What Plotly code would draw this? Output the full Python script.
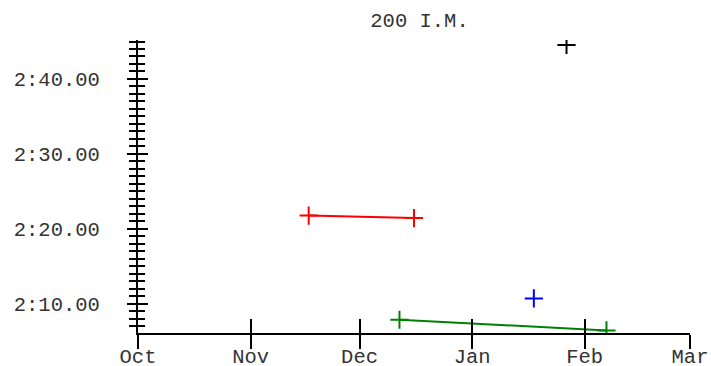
import plotly.graph_objects as go

# swim times for 200 I.M., in seconds
red_dates = ["2015-11-17", "2015-12-16"]
red_times = [141.77, 141.43]

green_dates = ["2015-12-12", "2016-02-07"]
green_times = [127.87, 126.44]

blue_dates = ["2016-01-18"]
blue_times = [130.71]

black_dates = ["2016-01-27"]
black_times = [164.53]

tick_secs = [130, 140, 150, 160]
tick_labels = ["2:10.00", "2:20.00", "2:30.00", "2:40.00"]

FONT = "Liberation Mono, Courier New, monospace"
x_range = ["2015-10-01", "2016-03-01"]
y_range = [126.1, 165.2]

fig = go.Figure()

series = [
    (red_dates, red_times, "red"),
    (green_dates, green_times, "green"),
    (blue_dates, blue_times, "blue"),
    (black_dates, black_times, "black"),
]
for dates, times, color in series:
    fig.add_trace(go.Scatter(
        x=dates, y=times, mode="lines+markers",
        line=dict(color=color, width=2),
        marker=dict(symbol="cross-thin", size=13, line=dict(color=color, width=2)),
        showlegend=False,
    ))

# dummy trace so the overlay axes (inside ticks) get drawn
fig.add_trace(go.Scatter(x=[None], y=[None], xaxis="x2", yaxis="y2",
                         showlegend=False, hoverinfo="skip"))

minor_vals = list(range(127, 166))

fig.update_layout(
    width=711, height=366,
    margin=dict(l=138, r=21, t=40, b=33),
    paper_bgcolor="white", plot_bgcolor="white",
    font=dict(family=FONT, size=20.5, color="#333"),
    title=dict(text="200 I.M.", x=0.51, xref="paper", xanchor="center",
               y=1 - 20 / 366, yref="container", yanchor="middle",
               font=dict(family=FONT, size=20.5, color="#333")),
    xaxis=dict(
        type="date", range=x_range, showgrid=False, zeroline=False,
        showline=True, linecolor="black", linewidth=2,
        ticks="outside", ticklen=14, tickwidth=2, tickcolor="black",
        dtick="M1", tickformat="%b", automargin=False,
        ticklabelstandoff=-11,
    ),
    xaxis2=dict(
        type="date", range=x_range, overlaying="x", anchor="y2",
        showgrid=False, zeroline=False, showline=False, showticklabels=False,
        ticks="inside", ticklen=14, tickwidth=2, tickcolor="black", dtick="M1",
    ),
    yaxis=dict(
        range=y_range, showgrid=False, zeroline=False,
        showline=True, linecolor="black", linewidth=2,
        tickmode="array", tickvals=tick_secs, ticktext=tick_labels,
        ticks="outside", ticklen=9, tickwidth=2, tickcolor="black",
        ticklabelstandoff=23, automargin=False,
        minor=dict(tickmode="array", tickvals=minor_vals, ticks="outside",
                   ticklen=7, tickwidth=2, tickcolor="black", showgrid=False),
    ),
    yaxis2=dict(
        range=y_range, overlaying="y", anchor="x2",
        showgrid=False, zeroline=False, showline=False, showticklabels=False,
        tickmode="array", tickvals=tick_secs,
        ticks="inside", ticklen=10, tickwidth=2, tickcolor="black",
        minor=dict(tickmode="array", tickvals=minor_vals, ticks="inside",
                   ticklen=7, tickwidth=2, tickcolor="black", showgrid=False),
    ),
)

fig.write_html("out.html", config={"displayModeBar": False},
               post_script="document.body.style.margin='0';")
